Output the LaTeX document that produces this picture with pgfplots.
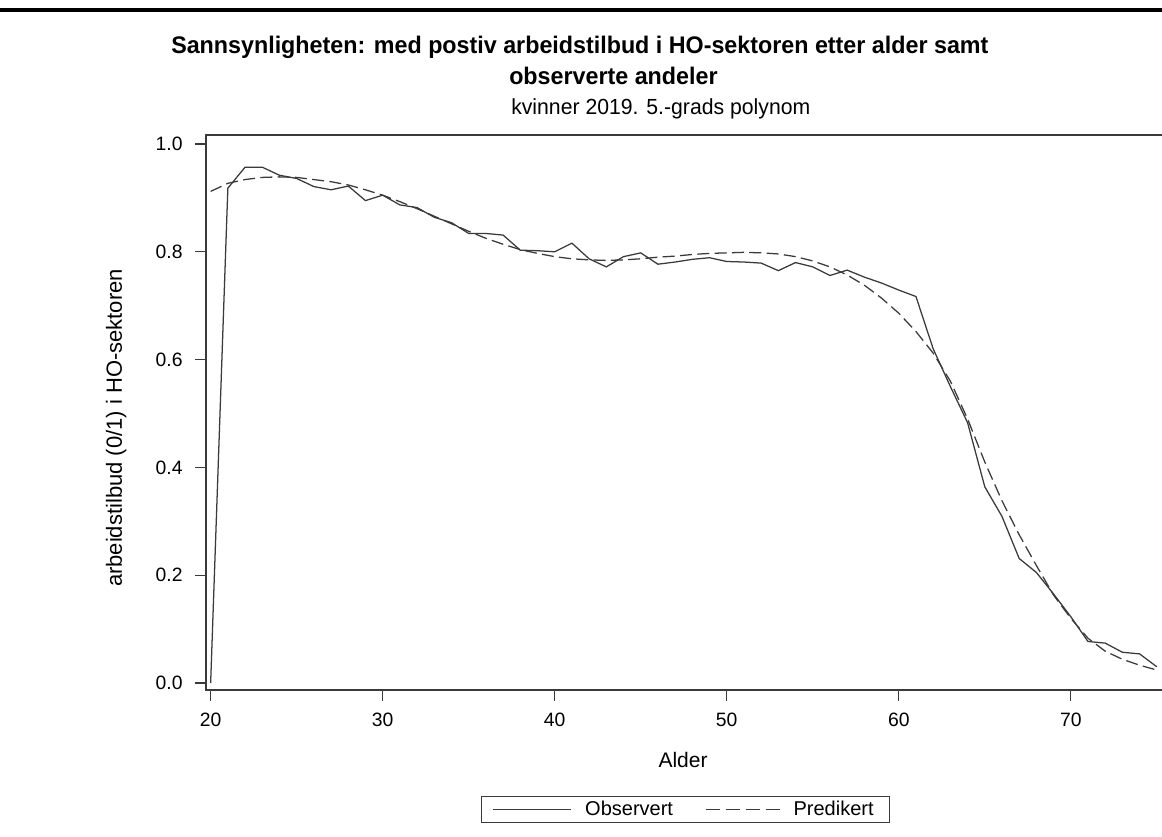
\documentclass[border=0pt]{standalone}
\usepackage{fontspec}
\setmainfont{Liberation Sans}
\newfontfamily\titlefont[FakeStretch=0.97]{Liberation Sans}
\usepackage{pgfplots}
\pgfplotsset{compat=1.18}

\definecolor{ln}{HTML}{3A3A3A}

\pgfplotsset{
  obsleg/.style={legend image code/.code={\draw[##1] (0pt,0pt) -- (59pt,0pt);}},
  predleg/.style={legend image code/.code={\draw[##1, dash pattern=on 10.5pt off 4.5pt] (0pt,0pt) -- (55.5pt,0pt);}},
}

% observed shares by age
\pgfplotstableread{
age val
20 0.000
21 0.918
22 0.957
23 0.957
24 0.942
25 0.936
26 0.921
27 0.915
28 0.922
29 0.895
30 0.905
31 0.887
32 0.882
33 0.864
34 0.854
35 0.834
36 0.834
37 0.831
38 0.803
39 0.802
40 0.800
41 0.816
42 0.787
43 0.772
44 0.791
45 0.798
46 0.777
47 0.781
48 0.786
49 0.789
50 0.782
51 0.781
52 0.779
53 0.765
54 0.780
55 0.772
56 0.756
57 0.766
58 0.753
59 0.742
60 0.729
61 0.717
62 0.620
63 0.550
64 0.483
65 0.364
66 0.309
67 0.231
68 0.205
69 0.165
70 0.123
71 0.077
72 0.074
73 0.057
74 0.054
75 0.030
}\observed

% predicted, 5th degree polynomial
\pgfplotstableread{
age val
20 0.912
21 0.927
22 0.934
23 0.938
24 0.939
25 0.938
26 0.934
27 0.930
28 0.924
29 0.915
30 0.905
31 0.893
32 0.880
33 0.866
34 0.852
35 0.838
36 0.825
37 0.814
38 0.804
39 0.797
40 0.791
41 0.787
42 0.785
43 0.784
44 0.785
45 0.787
46 0.790
47 0.792
48 0.795
49 0.797
50 0.798
51 0.799
52 0.798
53 0.796
54 0.791
55 0.783
56 0.772
57 0.757
58 0.738
59 0.714
60 0.686
61 0.652
62 0.612
63 0.560
64 0.490
65 0.410
66 0.338
67 0.275
68 0.218
69 0.163
70 0.120
71 0.083
72 0.059
73 0.044
74 0.033
75 0.024
}\predicted

\begin{document}
\begin{tikzpicture}
\useasboundingbox (0,0) rectangle (871.5pt,627.75pt);
% rule at the top of the page
\fill[black] (0,618.75pt) rectangle (871.5pt,621.75pt);

\node[font=\titlefont\bfseries\fontsize{18}{21}\selectfont, anchor=base west, inner sep=0pt]
  at (128.25pt,587.25pt)
  {Sannsynligheten: med postiv arbeidstilbud i HO-sektoren etter alder samt};
\node[font=\titlefont\bfseries\fontsize{18}{21}\selectfont, anchor=base west, inner sep=0pt]
  at (381.75pt,564pt) {observerte andeler};
\node[font=\titlefont\fontsize{16.4}{19}\selectfont, anchor=base west, inner sep=0pt]
  at (383.25pt,541.5pt) {kvinner 2019. 5.-grads polynom};

\begin{axis}[
    at={(154.5pt,110.25pt)}, anchor=south west,
    scale only axis,
    width=726pt, height=416.25pt,
    xmin=19.73, xmax=76.0,
    ymin=-0.013, ymax=1.0167,
    xtick={20,30,40,50,60,70},
    ytick={0,0.2,0.4,0.6,0.8,1.0},
    xtick pos=bottom, ytick pos=left,
    tick align=outside,
    major tick length=8pt,
    every tick/.style={ln, line width=0.8pt},
    axis line style={ln, line width=1.6pt},
    tick label style={font=\fontsize{14.5}{16}\selectfont},
    /pgf/number format/assume math mode=true,
    yticklabel style={/pgf/number format/.cd, fixed, fixed zerofill, precision=1, /tikz/.cd, xshift=-6pt},
    xticklabel style={yshift=-5.5pt},
    every axis x label/.style={at={(axis description cs:0.4928,-0.1405)}, anchor=base, font=\fontsize{15.75}{18}\selectfont},
    every axis y label/.style={at={(axis description cs:-0.0868,0.472)}, rotate=90, anchor=base, font=\fontsize{16.5}{19}\selectfont},
    xlabel={Alder},
    ylabel={arbeidstilbud (0/1) i HO-sektoren},
    legend columns=2,
    legend style={at={(0.4953,-0.191)}, anchor=north, draw=ln, line width=0.8pt,
        font=\fontsize{15}{17}\selectfont, inner xsep=8pt, inner ysep=2pt,
        nodes={inner ysep=1.5pt, inner xsep=4pt},
        /tikz/every odd column/.append style={column sep=6pt},
        /tikz/every even column/.append style={column sep=20pt}},
]
\addplot[ln, line width=0.95pt, obsleg] table[x=age, y=val] {\observed};
\addlegendentry{Observert}
\addplot[ln, line width=0.95pt, dash pattern=on 9pt off 4pt, predleg] table[x=age, y=val] {\predicted};
\addlegendentry{Predikert}
\end{axis}
\end{tikzpicture}
\end{document}
